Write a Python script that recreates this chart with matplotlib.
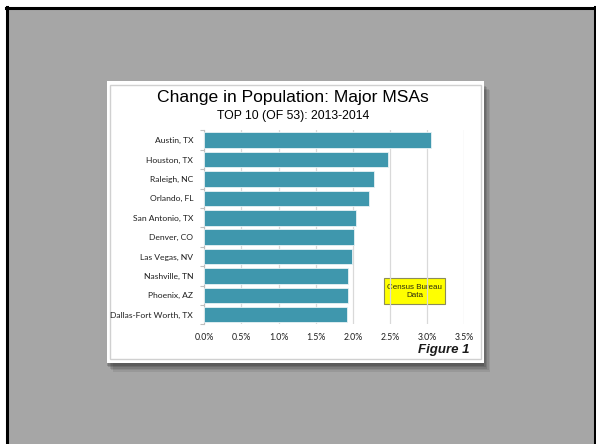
import matplotlib.pyplot as plt
from matplotlib.patches import Rectangle
from matplotlib.ticker import FuncFormatter, FixedLocator

# data
cities = ['Austin, TX', 'Houston, TX', 'Raleigh, NC', 'Orlando, FL', 'San Antonio, TX',
          'Denver, CO', 'Las Vegas, NV', 'Nashville, TN', 'Phoenix, AZ', 'Dallas-Fort Worth, TX']
growth = [3.05, 2.47, 2.28, 2.22, 2.04, 2.02, 1.99, 1.94, 1.93, 1.92]
xticks = [0.0, 0.5, 1.0, 1.5, 2.0, 2.5, 3.0, 3.5]

W, H = 596, 444
fig = plt.figure(figsize=(W / 100, H / 100), dpi=100)
fig.patch.set_facecolor('white')

# background layer in pixel coords
bg = fig.add_axes([0, 0, 1, 1])
bg.set_xlim(0, W); bg.set_ylim(H, 0); bg.axis('off')
bg.add_patch(Rectangle((6, 7), 590, 440, facecolor='#a6a6a6', edgecolor='none'))
bg.plot([7, 7], [7, 444], color='black', lw=2.2)
bg.plot([6, 596], [8, 8], color='black', lw=2.2)
bg.plot([595, 595], [7, 444], color='black', lw=2.2)
# soft shadow of the card
for i, a in enumerate([0.08, 0.09, 0.11, 0.13, 0.15]):
    o = 9 - i * 1.5
    bg.add_patch(Rectangle((106.5 + o - 3, 81.3 + o), 377.5, 281.4, facecolor='black',
                           edgecolor='none', alpha=a))
bg.add_patch(Rectangle((106.5, 81.3), 377.5, 281.4, facecolor='white', edgecolor='none'))
bg.add_patch(Rectangle((110, 85.3), 371, 273.7, facecolor='none', edgecolor='#d0d0d0', lw=1))

# title block
bg.text(293, 97, 'Change in Population: Major MSAs', ha='center', va='center',
        fontsize=12.6, family='Liberation Sans', color='black')
bg.text(293, 115.5, 'TOP 10 (OF 53): 2013-2014', ha='center', va='center',
        fontsize=8.8, family='Liberation Sans', color='black')
bg.text(469.5, 350, 'Figure 1', ha='right', va='center', fontsize=9.5,
        family='Liberation Sans', weight='bold', style='italic', color='#1a1a1a')
bg.add_patch(Rectangle((384, 278.3), 61, 26, facecolor='#ffff00', edgecolor='#8c8c5a', lw=0.8, zorder=5))
bg.text(414.5, 291.5, 'Census Bureau\nData', ha='center', va='center', fontsize=5.8,
        family='Liberation Sans', color='#2a2a10', linespacing=1.35, zorder=6)

# chart
ax = fig.add_axes([204.3 / W, 1 - 324.4 / H, 260 / W, 193.9 / H])
ax.set_facecolor('none')
pos = list(range(len(cities)))
ax.barh(pos, growth, height=0.8, color='#3f97ad', edgecolor='#e8f2f5', linewidth=0.6, zorder=3)
ax.set_ylim(len(cities) - 0.5, -0.5)
ax.set_xlim(0, 3.5)
ax.set_yticks(pos)
ax.set_yticklabels(cities, family='Lato', fontsize=6.1, color='#1e1e1e')
ax.yaxis.set_minor_locator(FixedLocator([p - 0.5 for p in pos] + [len(cities) - 0.5]))
ax.tick_params(axis='y', which='major', length=0, pad=8)
ax.tick_params(axis='y', which='minor', length=3, color='#bfbfbf', width=0.8)
ax.set_xticks(xticks)
ax.xaxis.set_major_formatter(FuncFormatter(lambda v, p: f'{v:.1f}%'))
ax.tick_params(axis='x', length=0, pad=6, labelsize=6.3, labelcolor='#1e1e1e')
for lab in ax.get_xticklabels():
    lab.set_family('Lato')
ax.grid(axis='x', color='#d9d9d9', lw=0.9, zorder=0)
for s in ['top', 'right', 'bottom']:
    ax.spines[s].set_visible(False)
ax.spines['left'].set_color('#bfbfbf')
ax.spines['left'].set_linewidth(0.8)

fig.savefig('out.png', dpi=100)
